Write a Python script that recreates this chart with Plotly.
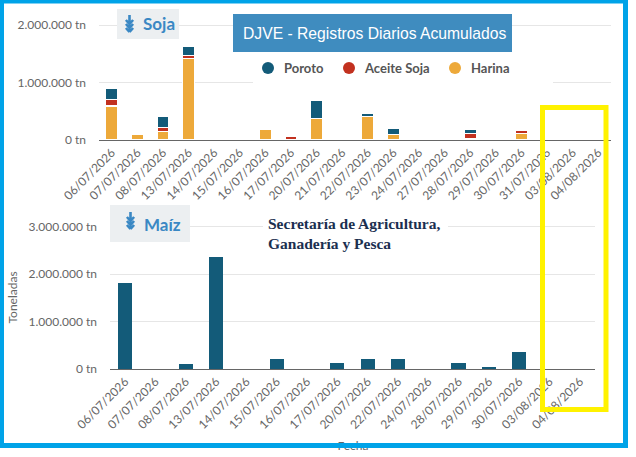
import plotly.graph_objects as go

W, H = 636, 457

# ---------------- data ----------------
soja_dates = ['06/07/2026', '07/07/2026', '08/07/2026', '13/07/2026', '14/07/2026',
              '15/07/2026', '16/07/2026', '17/07/2026', '20/07/2026', '21/07/2026',
              '22/07/2026', '23/07/2026', '24/07/2026', '27/07/2026', '28/07/2026',
              '29/07/2026', '30/07/2026', '31/07/2026', '03/08/2026', '04/08/2026']
soja_harina = [590000, 90000, 150000, 1420000, 20000, 6000, 180000, 10000, 370000, 20000,
               410000, 90000, 0, 0, 20000, 5000, 110000, 20000, 0, 0]
soja_aceite = [120000, 0, 70000, 50000, 0, 20000, 0, 50000, 0, 0,
               0, 0, 0, 0, 90000, 25000, 65000, 0, 0, 0]
soja_poroto = [190000, 0, 190000, 150000, 0, 0, 0, 20000, 320000, 0,
               60000, 120000, 0, 0, 70000, 0, 0, 0, 0, 0]

maiz_dates = ['06/07/2026', '07/07/2026', '08/07/2026', '13/07/2026', '14/07/2026',
              '15/07/2026', '16/07/2026', '17/07/2026', '20/07/2026', '22/07/2026',
              '24/07/2026', '28/07/2026', '29/07/2026', '30/07/2026', '03/08/2026',
              '04/08/2026']
maiz_values = [1810000, 0, 105000, 2360000, 0, 210000, 0, 130000, 210000, 210000,
               0, 130000, 40000, 360000, 0, 0]

soja_tickvals = [0, 1000000, 2000000]
soja_ticktext = ['0 tn', '1.000.000 tn', '2.000.000 tn']
maiz_tickvals = [0, 1000000, 2000000, 3000000]
maiz_ticktext = ['0 tn', '1.000.000 tn', '2.000.000 tn', '3.000.000 tn']

legend_names = ['Poroto', 'Aceite Soja', 'Harina']

# ---------------- styles ----------------
C_POROTO = '#135B79'
C_ACEITE = '#C2311F'
C_HARINA = '#EDA93A'
C_BORDER = '#00A3E8'
C_TITLEBOX = '#3F8CBF'
C_LABELBOX = '#ECEFF1'
C_LABELTXT = '#3A88C4'
C_AXISTXT = '#666666'
C_GRID = '#E6E6E6'


def px(x):
    return x / W


def py(y):
    return (H - y) / H


fig = go.Figure()

bar_line = dict(color='white', width=1.2)
fig.add_trace(go.Bar(x=soja_dates, y=soja_harina, marker=dict(color=C_HARINA, line=bar_line),
                     xaxis='x', yaxis='y', showlegend=False))
fig.add_trace(go.Bar(x=soja_dates, y=soja_aceite, marker=dict(color=C_ACEITE, line=bar_line),
                     xaxis='x', yaxis='y', showlegend=False))
fig.add_trace(go.Bar(x=soja_dates, y=soja_poroto, marker=dict(color=C_POROTO, line=bar_line),
                     xaxis='x', yaxis='y', showlegend=False))
fig.add_trace(go.Bar(x=maiz_dates, y=maiz_values, marker=dict(color=C_POROTO, line=dict(width=0)),
                     xaxis='x2', yaxis='y2', showlegend=False))

# "Fecha" label drawn as a text trace so the frame border covers it
fig.add_trace(go.Scatter(x=[353], y=[447], mode='text', text=['Fecha'],
                         textfont=dict(family='Lato', size=12, color=C_AXISTXT),
                         xaxis='x3', yaxis='y3', showlegend=False, cliponaxis=False,
                         hoverinfo='skip'))

# Soja: 0 at y=140, 57.5 px per million
s0, sppm = 140, 57.5
s_top = 2.1e6
# Maíz: 0 at y=369, 47.5 px per million
m0, mppm = 369, 47.5
m_top = 3.1e6

tickfont = dict(family='Lato', size=12, color=C_AXISTXT)

fig.update_layout(
    width=W, height=H,
    margin=dict(l=0, r=0, t=0, b=0, autoexpand=False),
    paper_bgcolor='white', plot_bgcolor='rgba(0,0,0,0)',
    barmode='stack', bargap=0.53,
    showlegend=False,
    xaxis=dict(domain=[px(99), px(611)], anchor='y', type='category', automargin=False,
               tickangle=-45, tickfont=tickfont, showline=True, linecolor='#666666',
               linewidth=1, showgrid=False, ticks=''),
    yaxis=dict(domain=[py(s0), py(s0 - s_top / 1e6 * sppm)], anchor='x', automargin=False,
               range=[0, s_top], tickvals=soja_tickvals, ticktext=soja_ticktext,
               tickfont=tickfont, showgrid=True, gridcolor=C_GRID, gridwidth=1,
               zeroline=False, ticks='', ticklabelstandoff=12),
    xaxis2=dict(domain=[px(110), px(595)], anchor='y2', type='category', automargin=False,
                tickangle=-45, tickfont=tickfont, showline=True, linecolor='#666666',
                linewidth=1, showgrid=False, ticks=''),
    yaxis2=dict(domain=[py(m0), py(m0 - m_top / 1e6 * mppm)], anchor='x2', automargin=False,
                range=[0, m_top], tickvals=maiz_tickvals, ticktext=maiz_ticktext,
                tickfont=tickfont, showgrid=True, gridcolor=C_GRID, gridwidth=1,
                zeroline=False, ticks='', ticklabelstandoff=12),
    xaxis3=dict(domain=[0, 1], anchor='y3', range=[0, W], visible=False, automargin=False),
    yaxis3=dict(domain=[0, 1], anchor='x3', range=[H, 0], visible=False, automargin=False),
)

shapes = []


def rect(x0, y0, x1, y1, color, layer='above'):
    shapes.append(dict(type='rect', xref='paper', yref='paper',
                       x0=px(x0), x1=px(x1), y0=py(y1), y1=py(y0),
                       fillcolor=color, line=dict(width=0), layer=layer))


def wheat(cx, top):
    # simple wheat-stalk icon made of short strokes
    segs = []
    segs.append(((cx, top + 17), (cx, top + 4)))
    segs.append(((cx, top), (cx, top + 5)))
    for dy in (6, 10, 14):
        segs.append(((cx, top + dy + 3), (cx - 3.6, top + dy - 1)))
        segs.append(((cx, top + dy + 3), (cx + 3.6, top + dy - 1)))
    path = ''
    for (a, b) in segs:
        path += f'M{px(a[0])},{py(a[1])} L{px(b[0])},{py(b[1])} '
    shapes.append(dict(type='path', xref='paper', yref='paper', path=path,
                       line=dict(color=C_LABELTXT, width=2.6), layer='above'))


# legend background, title box, label boxes
rect(253, 55, 553, 92, 'white')
rect(233, 14, 512, 52, C_TITLEBOX)
rect(117, 9, 179, 39, C_LABELBOX)
rect(110, 205, 190, 242, C_LABELBOX)
rect(263, 214, 448, 251, 'white')

wheat(129.5, 15)
wheat(130.5, 212)

# legend circles
for cxp, col in zip((268, 349, 455), (C_POROTO, C_ACEITE, C_HARINA)):
    r = 6
    shapes.append(dict(type='circle', xref='paper', yref='paper',
                       x0=px(cxp - r), x1=px(cxp + r), y0=py(68 + r), y1=py(68 - r),
                       fillcolor=col, line=dict(width=0), layer='above'))

# yellow highlight rectangle
shapes.append(dict(type='rect', xref='paper', yref='paper',
                   x0=px(542.5), x1=px(606), y0=py(409.5), y1=py(107.5),
                   line=dict(color='#FFF200', width=5), fillcolor='rgba(0,0,0,0)', layer='above'))

# outer frame
rect(0, 0, 628, 3.5, C_BORDER)
rect(0, 443, 628, 448, C_BORDER)
rect(0, 0, 4, 448, C_BORDER)
rect(623, 0, 628, 448, C_BORDER)

fig.update_layout(shapes=shapes)

ann = []
ann.append(dict(text='DJVE - Registros Diarios Acumulados', x=px(374.5), y=py(33.5),
                xref='paper', yref='paper', showarrow=False, xanchor='center', yanchor='middle',
                font=dict(family='Liberation Sans', size=15.7, color='white')))
for tx, name in zip((282, 362, 469), legend_names):
    ann.append(dict(text=f'<b>{name}</b>', x=px(tx), y=py(68.5), xref='paper', yref='paper',
                    showarrow=False, xanchor='left', yanchor='middle',
                    font=dict(family='Lato', size=13, color='#555555')))
ann.append(dict(text='<b>Soja</b>', x=px(141), y=py(24), xref='paper', yref='paper',
                showarrow=False, xanchor='left', yanchor='middle',
                font=dict(family='Lato', size=17, color=C_LABELTXT)))
ann.append(dict(text='<b>Maíz</b>', x=px(142), y=py(224), xref='paper', yref='paper',
                showarrow=False, xanchor='left', yanchor='middle',
                font=dict(family='Lato', size=17, color=C_LABELTXT)))
ann.append(dict(text='<b>Secretaría de Agricultura,<br>Ganadería y Pesca</b>',
                x=px(266), y=py(233), xref='paper', yref='paper', showarrow=False,
                xanchor='left', yanchor='middle', align='left',
                font=dict(family='Liberation Serif', size=15.5, color='#1B2F50')))
ann.append(dict(text='Toneladas', x=px(12.5), y=py(298), xref='paper', yref='paper',
                showarrow=False, textangle=-90, xanchor='center', yanchor='middle',
                font=dict(family='Lato', size=12, color=C_AXISTXT)))
fig.update_layout(annotations=ann)

fig.write_html('out.html', post_script="document.body.style.margin='0';",
               config={'displayModeBar': False, 'staticPlot': True})
